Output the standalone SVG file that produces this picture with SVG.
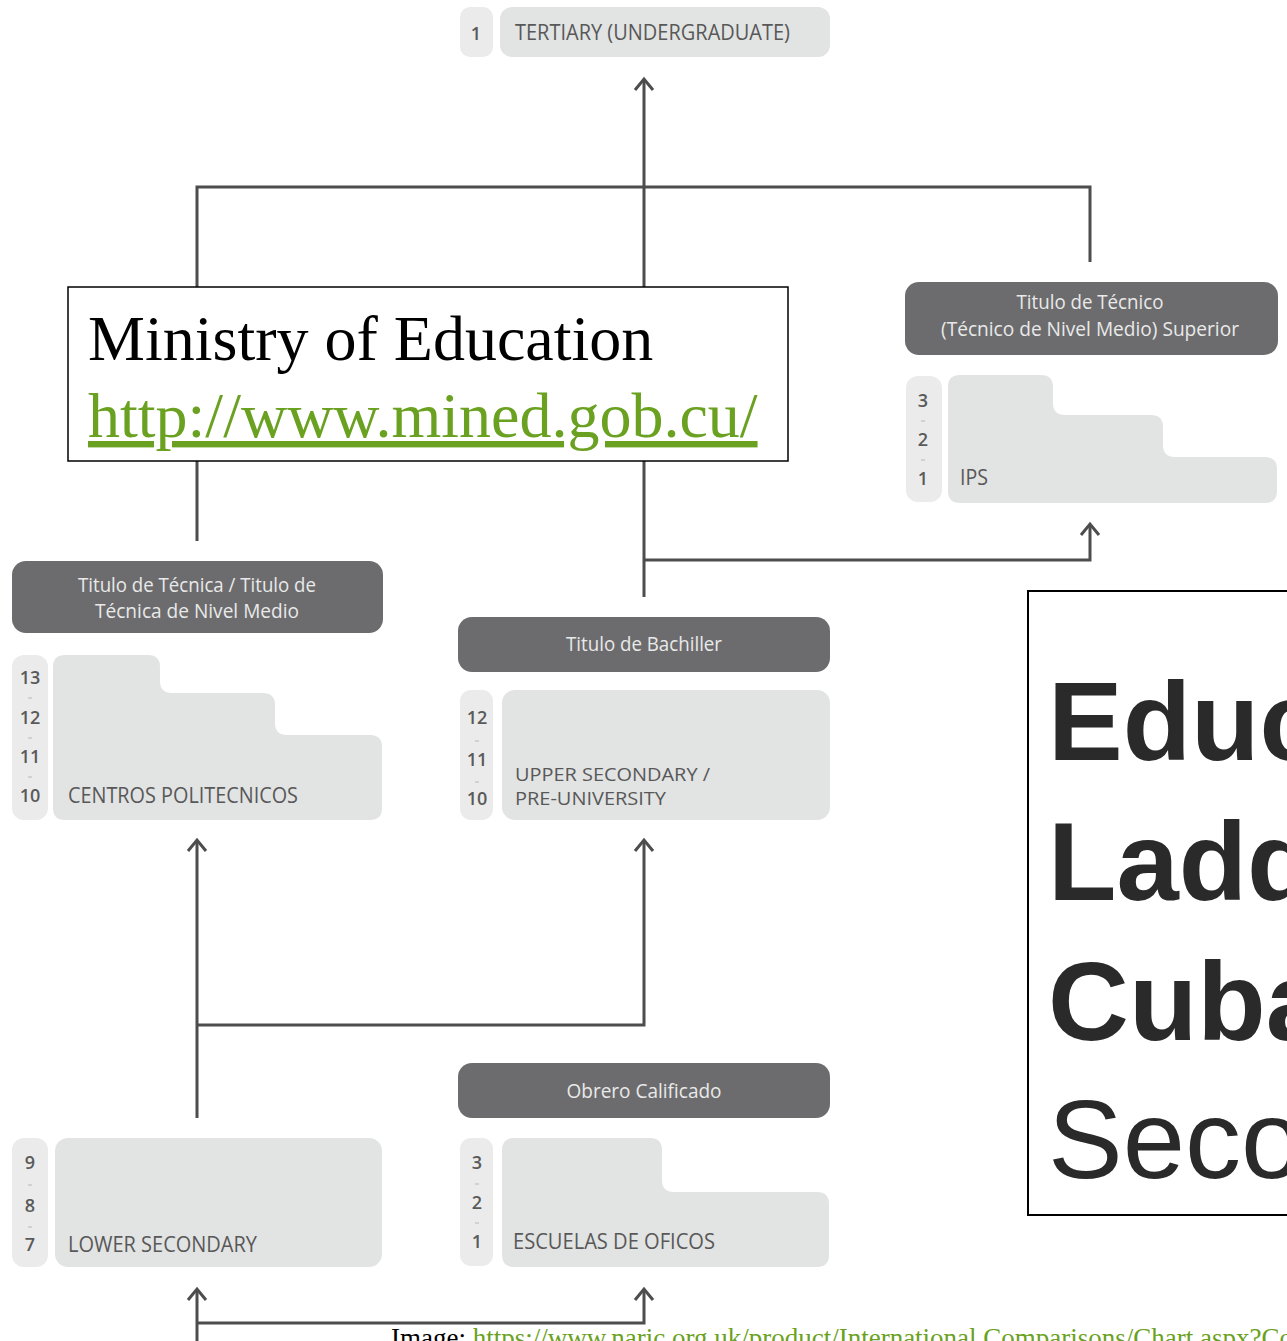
<svg xmlns="http://www.w3.org/2000/svg" width="1287" height="1341" viewBox="0 0 1287 1341">
<style>
.hdr{fill:#6c6c6e}
.lt{fill:#e2e3e3}
.pill{fill:#ebebeb}
.ht{font-family:"Open Sans","Liberation Sans",sans-serif;font-size:20px;fill:#e9e9e9;text-anchor:middle}
.bt{font-family:"Open Sans","Liberation Sans",sans-serif;font-size:21px;fill:#585858}
.bt2{font-family:"Open Sans","Liberation Sans",sans-serif;font-size:19px;fill:#585858}
.num{font-family:"Open Sans","Liberation Sans",sans-serif;font-size:18px;font-weight:600;fill:#5a5a5a;text-anchor:middle}
.dash{stroke:#c8c8c8;stroke-width:1.5}
.con{fill:none;stroke:#4d4d4d;stroke-width:3}
.big{font-family:"Liberation Sans",Arial,sans-serif;font-size:112px;fill:#2a2a2a}
</style>
<defs>
<marker id="ah" markerUnits="userSpaceOnUse" markerWidth="30" markerHeight="30" viewBox="-15 -15 30 30" refX="0" refY="0" orient="auto">
<path d="M -11 -9 L 0 0 L -11 9" fill="none" stroke="#4d4d4d" stroke-width="3"/>
</marker>
</defs>
<rect width="1287" height="1341" fill="#ffffff"/>

<g id="connectors">
<path class="con" d="M 644 597 V 79" marker-end="url(#ah)"/>
<path class="con" d="M 197 541 V 187 H 1090 V 262"/>
<path class="con" d="M 644 560 H 1090 V 524" marker-end="url(#ah)"/>
<path class="con" d="M 197 1118 V 840" marker-end="url(#ah)"/>
<path class="con" d="M 197 1025 H 644 V 840" marker-end="url(#ah)"/>
<path class="con" d="M 197 1341 V 1289" marker-end="url(#ah)"/>
<path class="con" d="M 197 1323 H 644 V 1289" marker-end="url(#ah)"/>
</g>

<g id="tertiary">
<rect class="pill" x="460" y="7" width="33" height="50" rx="10"/>
<rect class="lt" x="500" y="7" width="330" height="50" rx="12"/>
<text class="num" x="476" y="40">1</text>
<text class="bt" x="515" y="40" textLength="275" lengthAdjust="spacingAndGlyphs">TERTIARY (UNDERGRADUATE)</text>
</g>

<g id="ips">
<rect class="hdr" x="905" y="282" width="373" height="73" rx="14"/>
<text class="ht" x="1090" y="309" textLength="147" lengthAdjust="spacingAndGlyphs">Titulo de Técnico</text>
<text class="ht" x="1090" y="336" textLength="298" lengthAdjust="spacingAndGlyphs">(Técnico de Nivel Medio) Superior</text>
<rect class="pill" x="906" y="376" width="36" height="126" rx="12"/>
<path class="lt" d="M 960 375 H 1041 Q 1053 375 1053 387 V 403 Q 1053 415 1065 415 H 1151 Q 1163 415 1163 427 V 445 Q 1163 457 1175 457 H 1265 Q 1277 457 1277 469 V 491 Q 1277 503 1265 503 H 960 Q 948 503 948 491 V 387 Q 948 375 960 375 Z"/>
<text class="num" x="923" y="407">3</text>
<text class="num" x="923" y="446">2</text>
<text class="num" x="923" y="485">1</text>
<line class="dash" x1="921" y1="421" x2="925" y2="421"/>
<line class="dash" x1="921" y1="460" x2="925" y2="460"/>
<text class="bt" x="960" y="485" textLength="28" lengthAdjust="spacingAndGlyphs">IPS</text>
</g>

<g id="politecnicos">
<rect class="hdr" x="12" y="561" width="371" height="72" rx="14"/>
<text class="ht" x="197" y="592" textLength="238" lengthAdjust="spacingAndGlyphs">Titulo de Técnica / Titulo de</text>
<text class="ht" x="197" y="618" textLength="204" lengthAdjust="spacingAndGlyphs">Técnica de Nivel Medio</text>
<rect class="pill" x="12" y="655" width="36" height="165" rx="12"/>
<path class="lt" d="M 65 655 H 148 Q 160 655 160 667 V 681 Q 160 693 172 693 H 263 Q 275 693 275 705 V 723 Q 275 735 287 735 H 370 Q 382 735 382 747 V 808 Q 382 820 370 820 H 65 Q 53 820 53 808 V 667 Q 53 655 65 655 Z"/>
<text class="num" x="30" y="684">13</text>
<text class="num" x="30" y="724">12</text>
<text class="num" x="30" y="763">11</text>
<text class="num" x="30" y="802">10</text>
<line class="dash" x1="28" y1="698" x2="32" y2="698"/>
<line class="dash" x1="28" y1="738" x2="32" y2="738"/>
<line class="dash" x1="28" y1="777" x2="32" y2="777"/>
<text class="bt" x="68" y="803" textLength="230" lengthAdjust="spacingAndGlyphs">CENTROS POLITECNICOS</text>
</g>

<g id="bachiller">
<rect class="hdr" x="458" y="617" width="372" height="55" rx="14"/>
<text class="ht" x="644" y="651" textLength="156" lengthAdjust="spacingAndGlyphs">Titulo de Bachiller</text>
<rect class="pill" x="460" y="690" width="33" height="130" rx="11"/>
<rect class="lt" x="502" y="690" width="328" height="130" rx="13"/>
<text class="num" x="477" y="724">12</text>
<text class="num" x="477" y="766">11</text>
<text class="num" x="477" y="805">10</text>
<line class="dash" x1="475" y1="741" x2="479" y2="741"/>
<line class="dash" x1="475" y1="782" x2="479" y2="782"/>
<text class="bt2" x="515" y="781" textLength="195" lengthAdjust="spacingAndGlyphs">UPPER SECONDARY /</text>
<text class="bt2" x="515" y="805" textLength="151" lengthAdjust="spacingAndGlyphs">PRE-UNIVERSITY</text>
</g>

<g id="lower">
<rect class="pill" x="12" y="1138" width="36" height="129" rx="12"/>
<rect class="lt" x="55" y="1138" width="327" height="129" rx="13"/>
<text class="num" x="30" y="1169">9</text>
<text class="num" x="30" y="1212">8</text>
<text class="num" x="30" y="1251">7</text>
<line class="dash" x1="28" y1="1185" x2="32" y2="1185"/>
<line class="dash" x1="28" y1="1227" x2="32" y2="1227"/>
<text class="bt" x="68" y="1252" textLength="189" lengthAdjust="spacingAndGlyphs">LOWER SECONDARY</text>
</g>

<g id="oficos">
<rect class="hdr" x="458" y="1063" width="372" height="55" rx="14"/>
<text class="ht" x="644" y="1098" textLength="155" lengthAdjust="spacingAndGlyphs">Obrero Calificado</text>
<rect class="pill" x="460" y="1138" width="33" height="128" rx="11"/>
<path class="lt" d="M 514 1138 H 650 Q 662 1138 662 1150 V 1180 Q 662 1192 674 1192 H 817 Q 829 1192 829 1204 V 1255 Q 829 1267 817 1267 H 514 Q 502 1267 502 1255 V 1150 Q 502 1138 514 1138 Z"/>
<text class="num" x="477" y="1169">3</text>
<text class="num" x="477" y="1209">2</text>
<text class="num" x="477" y="1248">1</text>
<line class="dash" x1="475" y1="1184" x2="479" y2="1184"/>
<line class="dash" x1="475" y1="1223" x2="479" y2="1223"/>
<text class="bt" x="513" y="1249" textLength="202" lengthAdjust="spacingAndGlyphs">ESCUELAS DE OFICOS</text>
</g>

<g id="ministry">
<rect x="68" y="287" width="720" height="174" fill="#ffffff" stroke="#000000" stroke-width="1.5"/>
<text x="88" y="360" font-family="'Liberation Serif','Times New Roman',serif" font-size="64" fill="#000000">Ministry of Education</text>
<text x="88" y="437" font-family="'Liberation Serif','Times New Roman',serif" font-size="64" fill="#6aa121" text-decoration="underline">http://www.mined.gob.cu/</text>
</g>

<g id="title">
<rect x="1028" y="591" width="300" height="624" fill="#ffffff" stroke="#000000" stroke-width="2"/>
<text class="big" x="1048" y="760" font-weight="bold">Education</text>
<text class="big" x="1048" y="900" font-weight="bold">Ladder</text>
<text class="big" x="1048" y="1040" font-weight="bold">Cuba</text>
<text class="big" x="1048" y="1178">Secondary</text>
</g>

<g id="footer">
<text x="391" y="1347" font-family="'Liberation Serif','Times New Roman',serif" font-size="27" fill="#000000">Image: <tspan fill="#6aa121" text-decoration="underline">https://www.naric.org.uk/product/International Comparisons/Chart.aspx?Co</tspan></text>
</g>
</svg>
